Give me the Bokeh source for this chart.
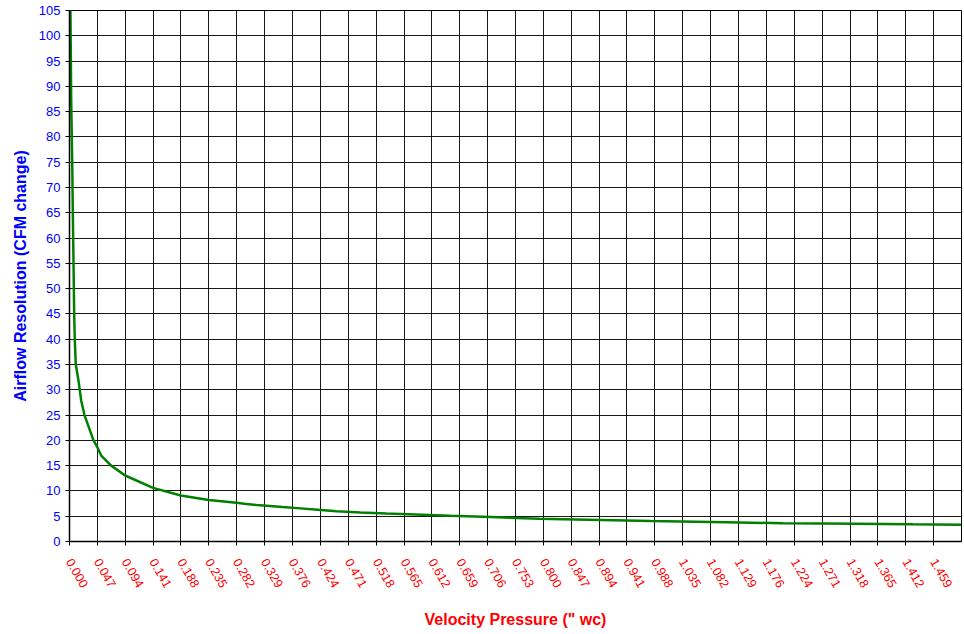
import math
from bokeh.plotting import figure
from bokeh.models import Range1d, FixedTicker
from bokeh.embed import file_html
from bokeh.resources import INLINE

# Tick labels of the velocity-pressure axis ("wc)
x_tick_labels = ["0.000", "0.047", "0.094", "0.141", "0.188", "0.235", "0.282", "0.329",
                 "0.376", "0.424", "0.471", "0.518", "0.565", "0.612", "0.659", "0.706",
                 "0.753", "0.800", "0.847", "0.894", "0.941", "0.988", "1.035", "1.082",
                 "1.129", "1.176", "1.224", "1.271", "1.318", "1.365", "1.412", "1.459"]
x_axis_end = 1.506
y_ticks = list(range(0, 106, 5))

# Series
velocity_pressure = [0.0008, 0.0029, 0.0046, 0.0056, 0.0068, 0.0079, 0.0089, 0.0106,
                     0.0152, 0.0197, 0.0253, 0.0405, 0.047, 0.0535, 0.0704, 0.094,
                     0.141, 0.188, 0.235, 0.282, 0.295, 0.316, 0.338, 0.360, 0.390,
                     0.419, 0.451, 0.491, 0.535, 0.584, 0.643, 0.712, 0.754, 0.793,
                     0.876, 0.982, 1.109, 1.204, 1.272, 1.424, 1.506]
airflow_resolution = [115, 87, 75, 65, 55, 45, 40, 35,
                      31.8, 27.9, 25, 20, 18.65, 17.0, 15, 13.05,
                      10.6, 9.1, 8.2, 7.65, 7.45, 7.2, 7.0, 6.8, 6.55,
                      6.3, 6.0, 5.75, 5.52, 5.32, 5.1, 4.85, 4.65, 4.5,
                      4.3, 4.03, 3.8, 3.62, 3.55, 3.4, 3.33]

x_ticks = [float(s) for s in x_tick_labels]

p = figure(width=962, height=632, output_backend="svg", toolbar_location=None,
           x_range=Range1d(0, x_axis_end), y_range=Range1d(0, 105),
           min_border_left=69, min_border_right=1, min_border_top=10, min_border_bottom=91,
           background_fill_color="white", border_fill_color="white")

p.line(velocity_pressure, airflow_resolution, line_color="#008000", line_width=2.5)

# grid
p.xgrid.ticker = FixedTicker(ticks=x_ticks)
p.ygrid.ticker = FixedTicker(ticks=y_ticks)
for g in (p.xgrid[0], p.ygrid[0]):
    g.grid_line_color = "black"
    g.grid_line_width = 1
    g.grid_line_alpha = 0.9

p.outline_line_color = "black"
p.outline_line_width = 1

# x axis
xa = p.xaxis[0]
xa.ticker = FixedTicker(ticks=x_ticks)
xa.major_label_overrides = {t: s for t, s in zip(x_ticks, x_tick_labels)}
xa.major_label_orientation = -math.pi / 3
xa.major_label_text_color = "#FF0000"
xa.major_label_text_font = "Liberation Sans"
xa.major_label_text_font_size = "12.5px"
xa.major_label_standoff = 14
xa.axis_label = "Velocity Pressure (\" wc)"
xa.axis_label_text_color = "#FF0000"
xa.axis_label_text_font = "Liberation Sans"
xa.axis_label_text_font_style = "bold"
xa.axis_label_text_font_size = "16px"
xa.axis_label_standoff = 17
xa.major_tick_out = 4
xa.major_tick_in = 0
xa.minor_tick_out = 0
xa.minor_tick_in = 0
xa.axis_line_color = "black"
xa.axis_line_width = 1.5
xa.major_tick_line_color = "black"

# y axis
ya = p.yaxis[0]
ya.ticker = FixedTicker(ticks=y_ticks)
ya.major_label_text_color = "#0000FF"
ya.major_label_text_font = "Liberation Sans"
ya.major_label_text_font_size = "13px"
ya.major_label_standoff = 5
ya.axis_label = "Airflow Resolution (CFM change)"
ya.axis_label_text_color = "#0000FF"
ya.axis_label_text_font = "Liberation Sans"
ya.axis_label_text_font_style = "bold"
ya.axis_label_text_font_size = "16px"
ya.axis_label_standoff = 7
ya.major_tick_out = 4
ya.major_tick_in = 0
ya.minor_tick_out = 0
ya.minor_tick_in = 0
ya.axis_line_color = "black"
ya.axis_line_width = 1.5
ya.major_tick_line_color = "black"

open("out.html", "w").write(file_html(p, INLINE))
